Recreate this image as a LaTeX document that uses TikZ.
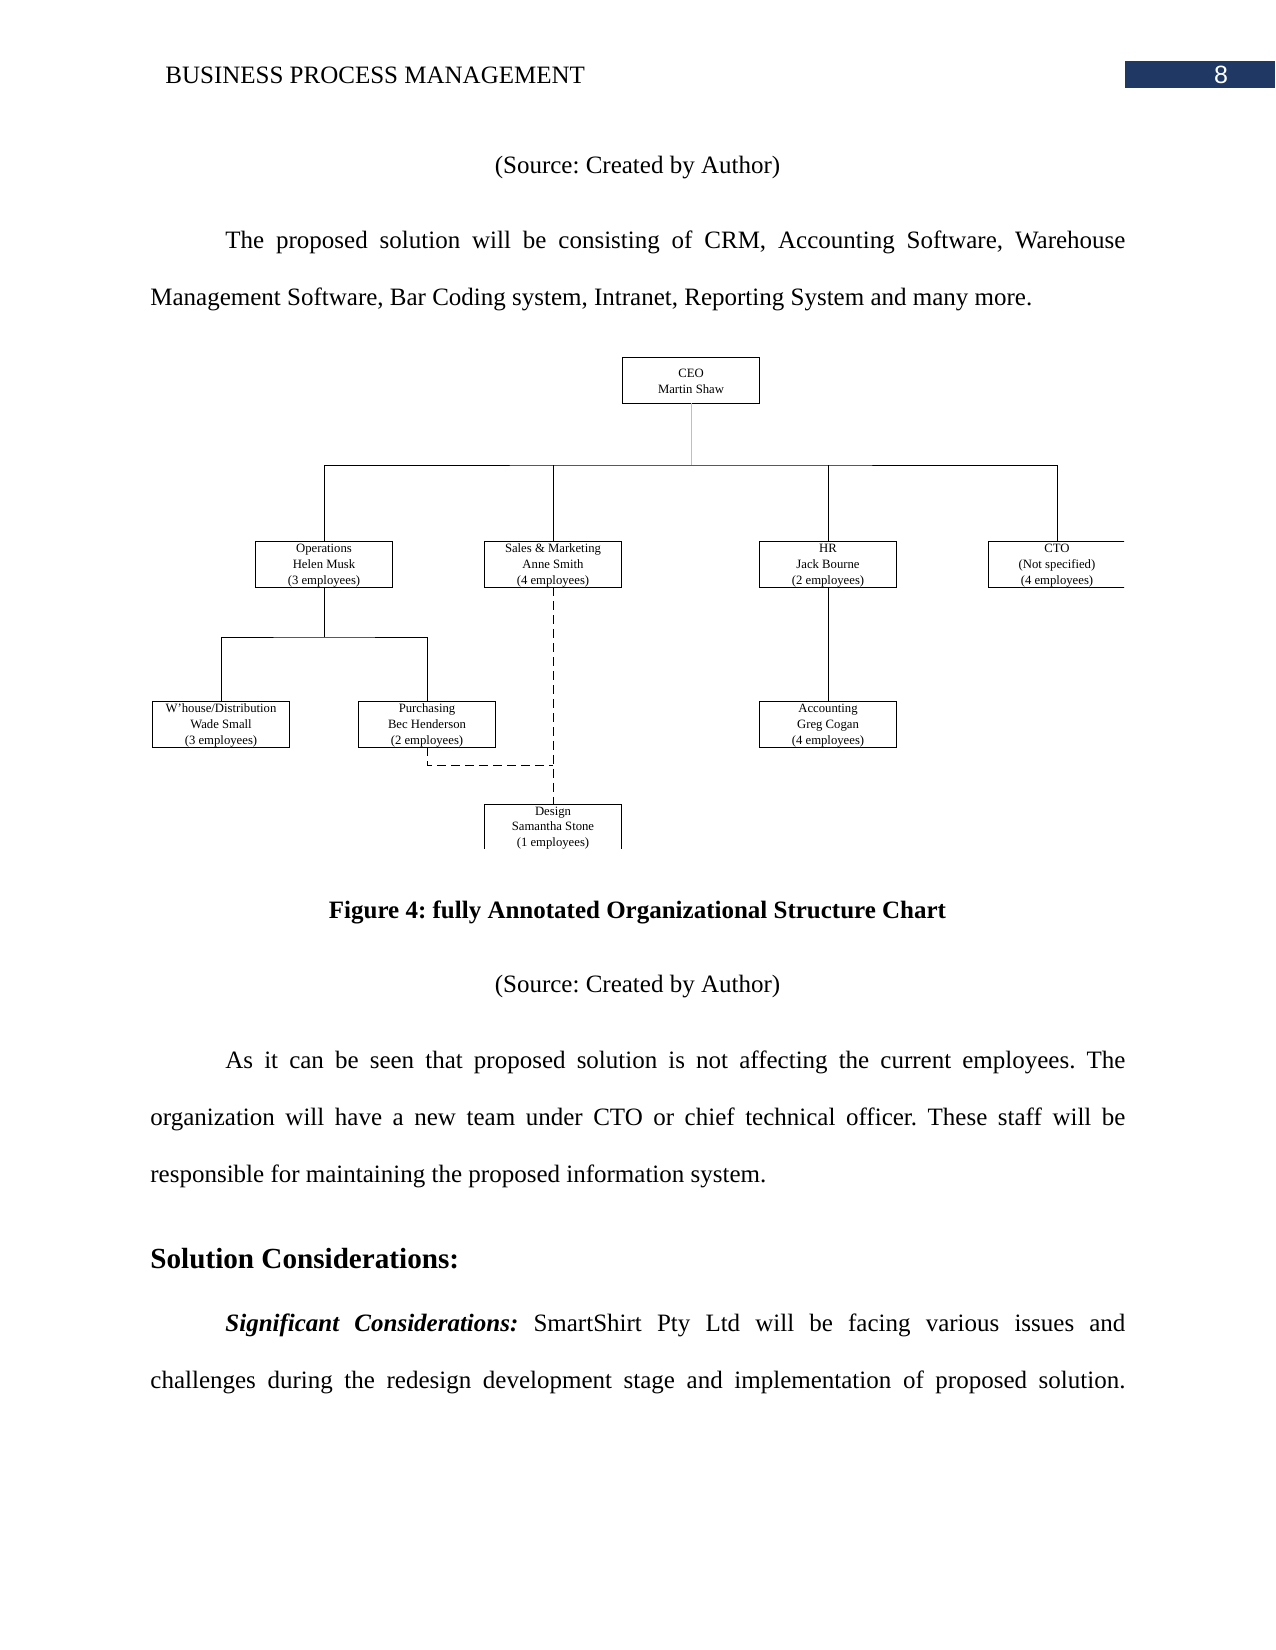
\documentclass[tikz,border=0pt]{standalone}
\usepackage{fontspec}
\setmainfont{Liberation Serif}
\newfontfamily\pagenumfont{Liberation Sans}
\definecolor{headerblue}{HTML}{1F3864}
\AtBeginDocument{\frenchspacing}

\begin{document}
\begin{tikzpicture}[x=0.48pt, y=-0.48pt, line width=0.4pt,
	orgbox/.style={shape=rectangle, draw, minimum width=65.8pt, minimum height=22.1pt, inner sep=0pt},
	orgtext/.style={inner sep=0pt, align=center, font=\fontsize{6.1}{7.6}\selectfont},
	bodytext/.style={inner sep=0pt, font=\fontsize{12}{14}\selectfont},
	dashlink/.style={dash pattern=on 4.3pt off 2.4pt}]
			\useasboundingbox (0,0) rectangle (1275,1650);
			\node[bodytext, anchor=base west](Header) at (165,84){BUSINESS PROCESS MANAGEMENT};
			\fill[headerblue] (1125,61) rectangle (1275,88);
			\node[inner sep=0pt, anchor=base, text=white, font=\pagenumfont\fontsize{12}{14}\selectfont](PageNum) at (1221,84){8};
			\node[bodytext, anchor=base](SourceTop) at (637.5,174){(Source: Created by Author)};
			\node[bodytext, anchor=base west](ParaA1) at (225,249){\makebox[432pt][s]{The proposed solution will be consisting of CRM, Accounting Software, Warehouse}};
			\node[bodytext, anchor=base west](ParaA2) at (150,306){Management Software, Bar Coding system, Intranet, Reporting System and many more.};
			\node[orgbox](CEO) at (691,380){} node[orgtext](CEOText) at ([yshift=-0.5pt]CEO.center){CEO\\Martin Shaw};
			\node[orgbox](Ops) at (324,564){} node[orgtext](OpsText) at ([yshift=-0.8pt]Ops.center){Operations\\Helen Musk\\(3 employees)};
			\node[orgbox](Sales) at (553,564){} node[orgtext](SalesText) at ([yshift=-0.8pt]Sales.center){Sales \& Marketing\\Anne Smith\\(4 employees)};
			\node[orgbox](HR) at (828,564){} node[orgtext](HRText) at ([yshift=-0.8pt]HR.center){HR\\Jack Bourne\\(2 employees)};
			\begin{scope}
				\clip (0,0) rectangle (1124,1650);
				\node[orgbox](CTO) at (1057,564){} node[orgtext](CTOText) at ([yshift=-0.8pt]CTO.center){CTO\\(Not specified)\\(4 employees)};
			\end{scope}
			\node[orgbox](WHouse) at (221,724){} node[orgtext](WHouseText) at ([yshift=-0.8pt]WHouse.center){W’house/Distribution\\Wade Small\\(3 employees)};
			\node[orgbox](Purch) at (427,724){} node[orgtext](PurchText) at ([yshift=-0.8pt]Purch.center){Purchasing\\Bec Henderson\\(2 employees)};
			\node[orgbox](Acct) at (828,724){} node[orgtext](AcctText) at ([yshift=-0.8pt]Acct.center){Accounting\\Greg Cogan\\(4 employees)};
			\begin{scope}
				\clip (0,0) rectangle (1275,848);
				\node[orgbox](Design) at (553,827){} node[orgtext](DesignText) at ([yshift=-0.5pt]Design.center){Design\\Samantha Stone\\(1 employees)};
			\end{scope}
			\coordinate(Bus) at (691,465);
			\draw[black!25] (CEO.south) -- (Bus);
			\draw (Ops.north) |- (Bus) -| (CTO.north);
			\draw (Sales.north) -- (Sales.north |- Bus);
			\draw (HR.north) -- (HR.north |- Bus);
			\coordinate(OpsBus) at (324,637);
			\draw (Ops.south) -- (OpsBus);
			\draw (WHouse.north) |- (OpsBus) -| (Purch.north);
			\draw (HR.south) -- (Acct.north);
			\draw[dashlink] (Sales.south) -- (Design.north);
			\coordinate(DesignLink) at (553,765);
			\draw[dashlink] (Purch.south) |- (DesignLink);
			\node[bodytext, anchor=base, font=\bfseries\fontsize{12}{14}\selectfont](Caption) at (637.5,918){Figure 4: fully Annotated Organizational Structure Chart};
			\node[bodytext, anchor=base](SourceBottom) at (637.5,992){(Source: Created by Author)};
			\node[bodytext, anchor=base west](ParaB1) at (225,1068){\makebox[432pt][s]{As it can be seen that proposed solution is not affecting the current employees. The}};
			\node[bodytext, anchor=base west](ParaB2) at (150,1125){\makebox[468pt][s]{organization will have a new team under CTO or chief technical officer. These staff will be}};
			\node[bodytext, anchor=base west](ParaB3) at (150,1182){responsible for maintaining the proposed information system.};
			\node[bodytext, anchor=base west, font=\bfseries\fontsize{14}{16}\selectfont](Heading) at (150,1268){Solution Considerations:};
			\node[bodytext, anchor=base west](ParaC1) at (225,1331){\makebox[432pt][s]{\textbf{\textit{Significant Considerations:}} SmartShirt Pty Ltd will be facing various issues and}};
			\node[bodytext, anchor=base west](ParaC2) at (150,1388){\makebox[468pt][s]{challenges during the redesign development stage and implementation of proposed solution.}};
		\end{tikzpicture}
\end{document}
